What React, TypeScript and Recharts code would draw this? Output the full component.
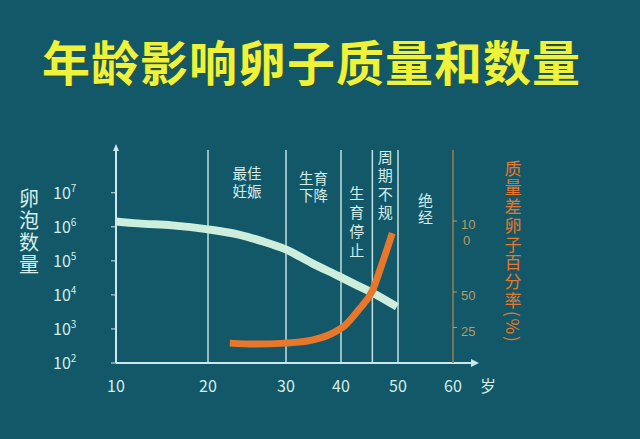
import { LineChart, Line, XAxis, YAxis, ReferenceLine, ReferenceArea } from 'recharts'

// age axis ticks (the drawn axis is uneven, see AXIS_GAPS below)
const AGE_TICKS = [10, 20, 30, 40, 50, 60]

// follicle count (left, log scale)
const FOLLICLE_AGE = [10, 12.4, 16.1, 20, 23.8, 26.9, 29.9, 34.7, 39.5, 43, 45.5, 49.8]
const FOLLICLE_COUNT = [1.44e6, 1.26e6, 1.1e6, 8.4e5, 6.0e5, 3.8e5, 2.2e5, 8.6e4, 3.6e4, 1.85e4, 1.16e4, 4.5e3]

// poor-quality egg percentage (right axis)
const POOR_AGE = [22.8, 26, 29.9, 34.7, 38.4, 40.7, 43, 45.5, 47.2, 49]
const POOR_PCT = [14, 13.3, 14, 16.1, 20.9, 26.5, 37, 50.9, 69.8, 91.4]

const COUNT_TICKS = [1e2, 1e3, 1e4, 1e5, 1e6, 1e7]
const PCT_TICKS = [25, 50, 100]

// life stages
const STAGE_LINES = [20, 30, 40, 45.5, 50]
const STAGE_FROM = [20, 30, 40, 45.5, 50]
const STAGE_TO = [30, 40, 45.5, 50, 60]
const STAGE_TEXT = ['最佳|妊娠', '生育|下降', '生育停止', '周期不规', '绝经']

const LEFT_TITLE = '卵泡数量'
const RIGHT_TITLE = '质量差卵子百分率(%)'

// layout of the hand drawn age axis: pixels per decade
const AXIS_GAPS = [92, 78, 55, 57, 55]
const AXIS_LEN = AXIS_GAPS.reduce((s, g) => s + g, 0)

function warp(age: number) {
  let pos = 0
  for (let i = 0; i < AGE_TICKS.length - 1; i++) {
    const a = AGE_TICKS[i], b = AGE_TICKS[i + 1]
    if (age <= b || i === AGE_TICKS.length - 2) return pos + ((age - a) / (b - a)) * AXIS_GAPS[i]
    pos += AXIS_GAPS[i]
  }
  return pos
}

const follicleData = FOLLICLE_AGE.map((a, i) => ({ x: warp(a), v: FOLLICLE_COUNT[i] }))
const poorData = POOR_AGE.map((a, i) => ({ x: warp(a), v: POOR_PCT[i] }))

const BG = '#125868'
const LIGHT = '#d4eeea'
const AXIS = '#cde8ea'
const ORANGE = '#e8772b'
const TAN = '#b89a66'
const FONT = '"Noto Sans CJK SC", "Noto Sans", sans-serif'
// Latin font first keeps the row boxes tight; the CJK glyphs still come from Noto
const ROW_FONT = '"Liberation Sans", "Noto Sans CJK SC", sans-serif'

// stage label layout: vertical stacks or two horizontal rows; offset from plot top, row step
const STAGE_LAYOUT = [
  { top: 24, step: 18, vertical: false },
  { top: 29, step: 17, vertical: false },
  { top: 43, step: 19, vertical: true },
  { top: 7, step: 18.5, vertical: true },
  { top: 50, step: 17, vertical: true },
]

// top-to-bottom text, one <text> element
function VText({ x, y, step, fontSize, children, ...rest }: any) {
  return (
    <text x={x} y={y - fontSize / 2} textAnchor="start" fontFamily={FONT} fontSize={fontSize}
      style={{ writingMode: 'vertical-rl', letterSpacing: step - fontSize }} {...rest}>
      {children}
    </text>
  )
}

function StageLabel({ viewBox, text, layout }: any) {
  const cx = viewBox.x + viewBox.width / 2
  const y = viewBox.y + layout.top
  if (layout.vertical) {
    return <VText x={cx} y={y} step={layout.step} fontSize={15} fill={LIGHT}>{text}</VText>
  }
  return (
    <text textAnchor="middle" dominantBaseline="central" fontFamily={ROW_FONT} fontSize={14.5} fill={LIGHT}>
      {text.split('|').map((r: string, i: number) => (
        <tspan key={i} x={cx} y={y + i * layout.step}>{r}</tspan>
      ))}
    </text>
  )
}

function AgeTick({ x, y, payload }: any) {
  const i = AGE_TICKS.map(warp).findIndex(p => Math.abs(p - payload.value) < 0.01)
  return (
    <text x={x} y={y + 21} textAnchor="middle" fill={LIGHT} fontSize={16} fontFamily={FONT}>
      {AGE_TICKS[i]}
    </text>
  )
}

function CountTick({ x, y, payload }: any) {
  const exp = Math.round(Math.log10(payload.value))
  return (
    <text x={x - 56} y={y + 6} textAnchor="start" fill={LIGHT} fontSize={16} fontFamily={FONT}>
      <tspan>10</tspan>
      <tspan dy={-7} fontSize={10}>{exp}</tspan>
    </text>
  )
}

function PctTick({ x, y, payload }: any) {
  const s = String(payload.value)
  // the original wraps "100" onto two lines
  const rows = s.length > 2 ? [s.slice(0, 2), s.slice(2)] : [s]
  return (
    <text textAnchor="start" dominantBaseline="central" fill={TAN} fontSize={13}
      fontFamily='"Liberation Sans", Arial, sans-serif'>
      {rows.map((r, i) => (
        <tspan key={i} x={x + 2 + i * 2} y={y + 3 + i * 16}>{r}</tspan>
      ))}
    </text>
  )
}

function AgeAxisLabel({ viewBox }: any) {
  const x0 = viewBox.x + viewBox.width
  const y = viewBox.y
  return (
    <g>
      <line x1={x0} y1={y} x2={x0 + 20} y2={y} stroke={AXIS} strokeWidth={2} />
      <polygon points={`${x0 + 26},${y} ${x0 + 18},${y - 4} ${x0 + 18},${y + 4}`} fill={AXIS} />
      <text x={x0 + 35} y={y + 22} textAnchor="middle" dominantBaseline="central" fill={LIGHT} fontSize={16} fontFamily={FONT}>岁</text>
    </g>
  )
}

function CountAxisLabel({ viewBox }: any) {
  const ax = viewBox.x + viewBox.width
  const top = viewBox.y
  return (
    <g>
      <polygon points={`${ax},${top - 6} ${ax - 3},${top + 1} ${ax + 3},${top + 1}`} fill={AXIS} />
      <VText x={29} y={top + 48} step={22} fontSize={20} fill={LIGHT}>{LEFT_TITLE}</VText>
    </g>
  )
}

function PctAxisLabel({ viewBox }: any) {
  return (
    <VText x={viewBox.x + 60} y={viewBox.y + 19} step={18.8} fontSize={17} fill={ORANGE}>{RIGHT_TITLE}</VText>
  )
}

export default function App() {
  return (
    <div style={{ position: 'absolute', left: 0, top: 0, width: 640, height: 439, background: BG, overflow: 'hidden' }}>
      <div style={{
        position: 'absolute', left: 0, top: 36, width: 623, textAlign: 'center',
        fontFamily: FONT, fontWeight: 700, fontSize: 48, lineHeight: '48px', letterSpacing: 1,
        color: '#eef23a', textShadow: '1px 1px 0 #2c4a1c',
      }}>
        年龄影响卵子质量和数量
      </div>
      <LineChart width={640} height={439} margin={{ top: 150, right: 147, bottom: 46, left: 54 }}
        style={{ position: 'absolute', left: 0, top: 0 }}>
        <XAxis type="number" dataKey="x" domain={[0, AXIS_LEN]} ticks={AGE_TICKS.map(warp)}
          axisLine={{ stroke: AXIS, strokeWidth: 2 }} tickLine={false} tick={<AgeTick />}
          height={30} label={<AgeAxisLabel />} allowDataOverflow />
        <YAxis yAxisId="count" scale="log" domain={[100, 1.8e8]} ticks={COUNT_TICKS}
          axisLine={{ stroke: AXIS, strokeWidth: 2 }} tickLine={{ stroke: AXIS }} tickSize={5}
          tick={<CountTick />} width={62} label={<CountAxisLabel />} allowDataOverflow />
        <YAxis yAxisId="pct" orientation="right" domain={[0, 150]} ticks={PCT_TICKS}
          axisLine={{ stroke: '#9c7c4c', strokeWidth: 1.5 }} tickLine={{ stroke: TAN }} tickSize={4}
          tick={<PctTick />} width={40} label={<PctAxisLabel />} allowDataOverflow />

        {STAGE_FROM.map((a, i) => (
          <ReferenceArea key={'a' + i} yAxisId="count" x1={warp(a)} x2={warp(STAGE_TO[i])}
            fill="none" fillOpacity={0} stroke="none"
            label={<StageLabel text={STAGE_TEXT[i]} layout={STAGE_LAYOUT[i]} />} />
        ))}
        {STAGE_LINES.map(a => (
          <ReferenceLine key={a} yAxisId="count" x={warp(a)} stroke="#bfe0de" strokeWidth={1.5} />
        ))}

        <Line yAxisId="count" data={follicleData} dataKey="v" type="monotone" stroke="#cdeedd"
          strokeWidth={8} dot={false} activeDot={false} isAnimationActive={false} />
        <Line yAxisId="pct" data={poorData} dataKey="v" type="monotone" stroke={ORANGE}
          strokeWidth={7} dot={false} activeDot={false} isAnimationActive={false} />
      </LineChart>
    </div>
  )
}
